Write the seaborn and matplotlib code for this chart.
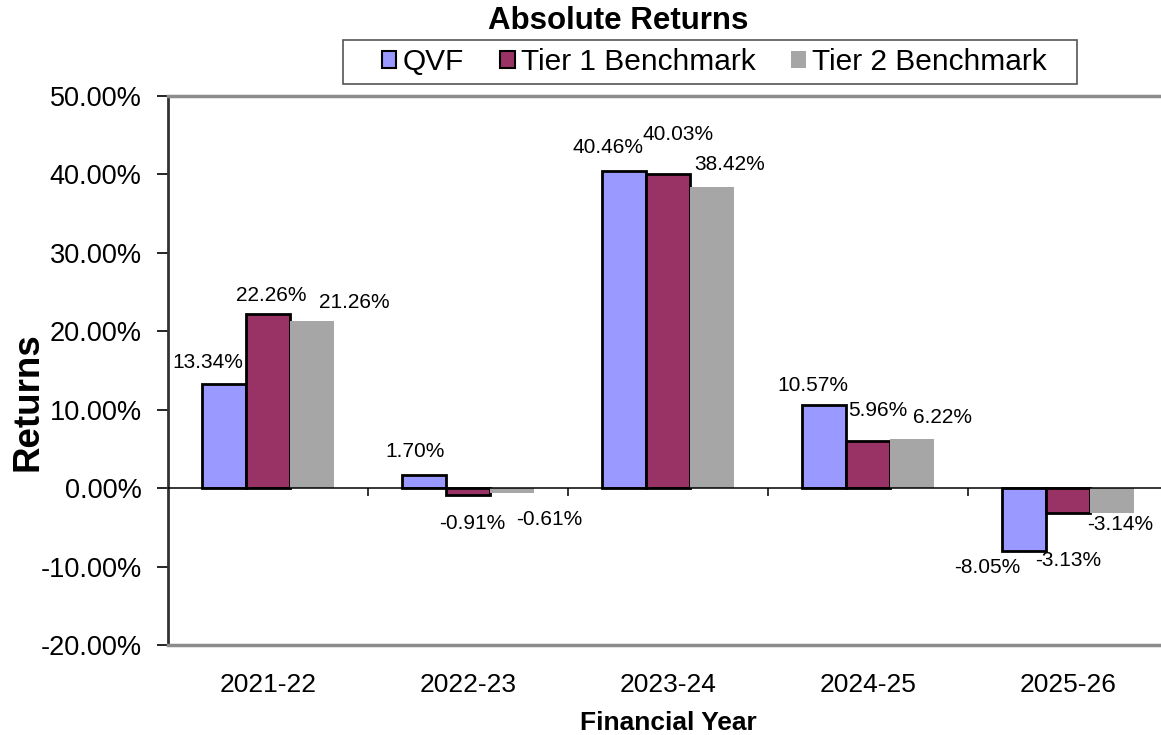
import matplotlib
matplotlib.use("Agg")
import matplotlib.pyplot as plt
from matplotlib.patches import Patch, Rectangle
import seaborn as sns
import pandas as pd

# ---- data ----
years = ["2021-22", "2022-23", "2023-24", "2024-25", "2025-26"]
series = ["QVF", "Tier 1 Benchmark", "Tier 2 Benchmark"]
qvf = [13.34, 1.70, 40.46, 10.57, -8.05]
tier1 = [22.26, -0.91, 40.03, 5.96, -3.13]
tier2 = [21.26, -0.61, 38.42, 6.22, -3.14]
yticks = [-20, -10, 0, 10, 20, 30, 40, 50]

# ---- styling ----
colors = ["#9999FF", "#993366", "#A6A6A6"]
edges = ["black", "black", "none"]
# label offsets (pixels) relative to bar end, per series
label_offsets = [
    [(-16, 21), (-9, 23), (-16, 23), (-11, 20), (-37, -16)],
    [(3, 18), (4, -28), (10, 40), (10, 31), (0, -48)],
    [(42, 19), (37, -27), (18, 22), (30, 22), (8, -12)],
]

sns.set_theme(style="white")
plt.rcParams["font.family"] = ["Liberation Sans", "DejaVu Sans"]
for k in ["text.color", "axes.labelcolor", "xtick.color", "ytick.color"]:
    plt.rcParams[k] = "black"

df = pd.DataFrame({
    "Year": years * 3,
    "Series": [s for s in series for _ in years],
    "Return": qvf + tier1 + tier2,
})

fig = plt.figure(figsize=(11.61, 7.35), dpi=100)
ax = fig.add_axes([168 / 1161, 90 / 735, 1000 / 1161, 549 / 735])

sns.barplot(data=df, x="Year", y="Return", hue="Series", order=years,
            hue_order=series, palette=colors, width=0.66, gap=0,
            saturation=1, legend=False, ax=ax, errorbar=None)

for cont, ec, offs in zip(ax.containers, edges, label_offsets):
    for patch, (dx, dy) in zip(cont.patches, offs):
        if ec == "none":
            patch.set_edgecolor("none")
            patch.set_linewidth(0)
        else:
            patch.set_edgecolor(ec)
            patch.set_linewidth(2)
        val = patch.get_y() + patch.get_height()
        ax.annotate(f"{val:.2f}%", xy=(patch.get_x() + patch.get_width() / 2, val),
                    xytext=(dx, dy), textcoords="offset pixels",
                    ha="center", va="center", fontsize=15, color="black")

ax.set_ylim(-20, 50)
ax.set_xlim(-0.5, len(years) - 0.5)
ax.set_yticks(yticks)
ax.set_yticklabels([f"{t:.2f}%" for t in yticks], fontsize=19.5)
ax.tick_params(axis="y", which="major", direction="out", length=8, width=1.2,
               color="black", pad=11, left=True)
ax.tick_params(axis="x", length=0, pad=20, labelsize=19)

ax.axhline(0, color="black", lw=1.1, zorder=3)
bounds = [i + 0.5 for i in range(len(years) - 1)]
ax.plot(bounds, [0] * len(bounds), linestyle="none", marker=3, markersize=6,
        markeredgewidth=1.1, color="black", zorder=3, clip_on=False)

for s in ["top", "bottom"]:
    ax.spines[s].set_color("#8C8C8C")
    ax.spines[s].set_linewidth(2.5)
ax.spines["left"].set_color("#333333")
ax.spines["left"].set_linewidth(2)
ax.spines["right"].set_visible(False)

ax.set_xlabel("Financial Year", fontsize=19, fontweight="bold", labelpad=10)
ax.set_ylabel("Returns", fontsize=26.5, fontweight="bold")
ax.yaxis.set_label_coords(-0.122, 0.443)

fig.text(618 / 1161, 1 - 21 / 735, "Absolute Returns", ha="center", va="center",
         fontsize=22.5, fontweight="bold")

handles = [Patch(facecolor=c, edgecolor=("black" if e != "none" else "none"), linewidth=1.5)
           for c, e in zip(colors, edges)]
leg = fig.legend(handles, series, loc="center", bbox_to_anchor=(714 / 1161, 1 - 62 / 735),
                 ncol=3, fontsize=21.5, frameon=False,
                 handlelength=0.5, handleheight=0.5, handletextpad=0.2,
                 columnspacing=1.2, borderpad=0.2, borderaxespad=0)
fig.add_artist(Rectangle((343 / 1161, 1 - 84 / 735), (1077 - 343) / 1161, 44 / 735,
                         transform=fig.transFigure, facecolor="none",
                         edgecolor="#555555", linewidth=1.2))

fig.savefig("out.png", dpi=100)
